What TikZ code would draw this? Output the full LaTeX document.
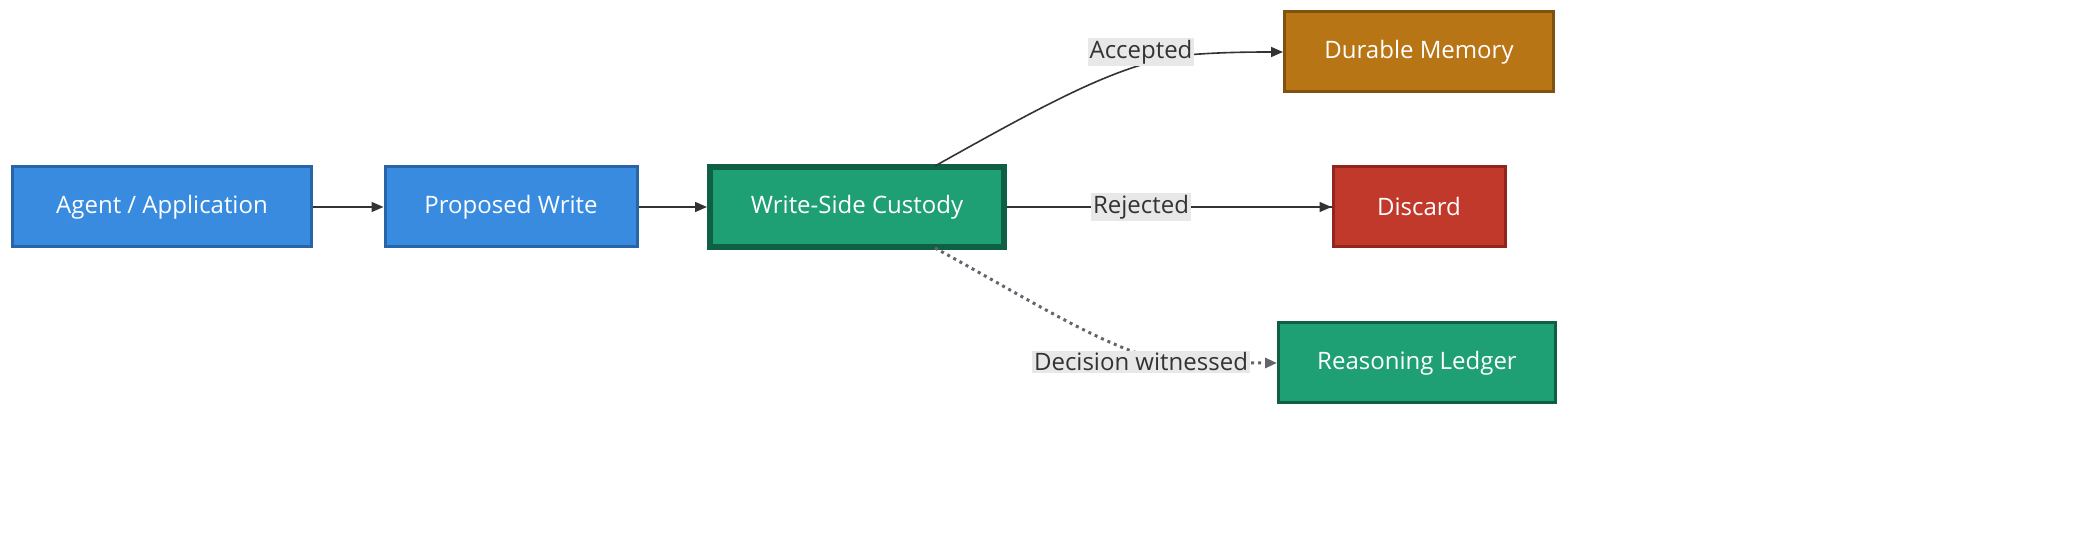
\documentclass[tikz,border=0pt]{standalone}
\usepackage{fontspec}
\setmainfont{Open Sans}
\usetikzlibrary{arrows.meta}
\definecolor{blueF}{HTML}{388BDF}\definecolor{blueD}{HTML}{2A64A8}
\definecolor{greenF}{HTML}{1EA074}\definecolor{greenD}{HTML}{0F5F45}
\definecolor{orF}{HTML}{B87516}\definecolor{orD}{HTML}{7F5210}
\definecolor{redF}{HTML}{C0392B}\definecolor{redD}{HTML}{90261D}
\definecolor{lblbg}{HTML}{E8E8E8}\definecolor{txt}{HTML}{333333}
\begin{document}
\begin{tikzpicture}[x=0.5pt,y=-0.5pt,
 box/.style={draw,line width=1.5pt,text=white,font=\fontsize{12}{14}\selectfont,minimum height=40pt,inner sep=0pt},
 lbl/.style={fill=lblbg,text=txt,font=\fontsize{12}{14}\selectfont,inner sep=1pt},
 arr/.style={draw=txt,line width=0.8pt,-{Triangle[length=6pt,width=5pt]}}]
\useasboundingbox (0,0) rectangle (2098,555);
\node[box,fill=blueF,draw=blueD,minimum width=149.5pt] (a) at (162,207) {Agent / Application};
\node[box,fill=blueF,draw=blueD,minimum width=126pt] (p) at (511,207) {Proposed Write};
\node[box,fill=greenF,draw=greenD,line width=3pt,minimum width=147pt] (c) at (857,207) {Write-Side Custody};
\node[box,fill=orF,draw=orD,minimum width=134.5pt] (d) at (1419,52) {Durable Memory};
\node[box,fill=redF,draw=redD,minimum width=86pt] (x) at (1419,207) {Discard};
\node[box,fill=greenF,draw=greenD,minimum width=138.5pt] (r) at (1417,363) {Reasoning Ledger};
\coordinate (cu) at (935,166);
\coordinate (cd) at (935,248);
\draw[arr] (a) -- (p);
\draw[arr] (p) -- (c);
\draw[txt,line width=0.8pt] (c) -- (x);
\draw[arr] (c) -- (x);
\draw[arr] (cu) .. controls (1060,96) and (1130,58) .. (1200,54) .. controls (1230,52) and (1260,52) .. (d.west);
\draw[draw={rgb,255:red,100;green,100;blue,110},line width=1.5pt,dotted,-{Triangle[length=6pt,width=5pt]}] (cd) .. controls (1030,300) and (1100,345) .. (1160,360) .. controls (1200,363) and (1240,363) .. (r.west);
\node[lbl] (la) at (1141,52) {Accepted};
\node[lbl] (lr) at (1141,207) {Rejected};
\node[lbl] (ld) at (1141,362) {Decision witnessed};
\end{tikzpicture}
\end{document}
